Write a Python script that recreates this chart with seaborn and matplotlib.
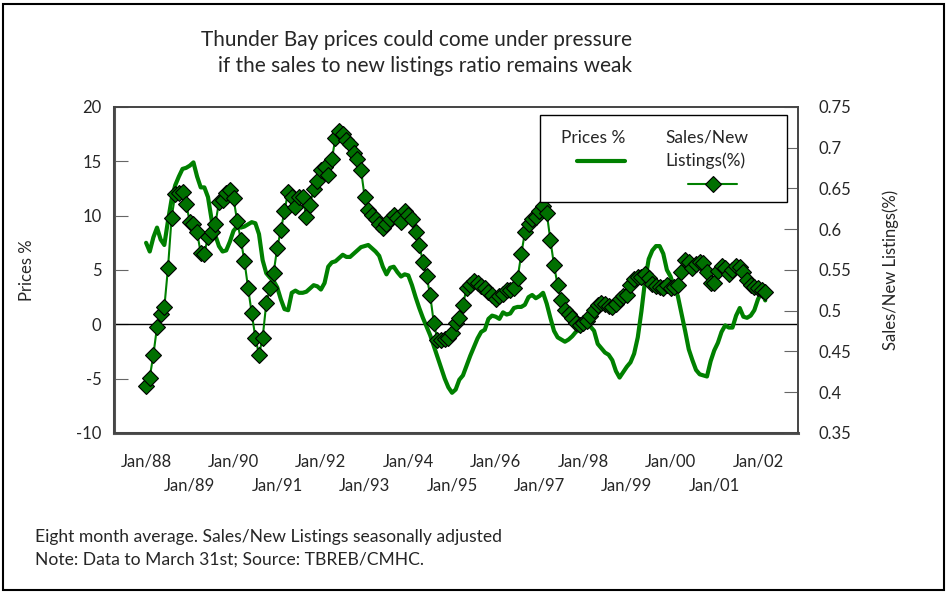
import pandas as pd
import seaborn as sns
import matplotlib.pyplot as plt
from matplotlib.lines import Line2D
from matplotlib.patches import Rectangle

# Datos mensuales Jan/88 - Mar/02
months = list(range(171))

prices = [7.5, 6.7, 8.0, 8.9, 7.8, 7.3, 9.5, 11.5, 12.8, 13.6, 14.3, 14.4,
          14.6, 14.9, 13.6, 12.6, 12.6, 11.7, 9.6, 8.2, 7.2, 6.7, 6.8, 7.6,
          8.6, 9.0, 8.9, 9.0, 9.2, 9.4, 9.3, 8.3, 5.9, 4.7, 4.3, 4.0,
          3.4, 2.3, 1.4, 1.3, 2.9, 3.1, 2.9, 2.9, 3.0, 3.3, 3.6, 3.5,
          3.2, 3.8, 5.3, 5.7, 5.8, 6.1, 6.4, 6.2, 6.2, 6.5, 6.8, 7.1,
          7.2, 7.3, 7.0, 6.7, 6.3, 5.3, 4.6, 5.2, 5.3, 4.8, 4.4, 4.6,
          4.5, 3.6, 2.5, 1.5, 0.6, -0.2, -1.0, -2.0, -3.0, -4.0, -5.0, -5.8,
          -6.3, -6.0, -5.1, -4.7, -3.8, -2.9, -2.1, -1.3, -0.7, -0.5, 0.5, 0.8,
          0.7, 0.5, 1.1, 0.9, 1.0, 1.5, 1.6, 1.6, 1.8, 2.5, 2.7, 2.4,
          2.6, 2.9, 1.9, 0.6, -0.6, -1.2, -1.4, -1.6, -1.4, -1.1, -0.7, -0.5,
          -0.3, -0.1, -0.2, -0.6, -1.8, -2.2, -2.6, -2.8, -3.3, -4.3, -4.9, -4.4,
          -3.9, -3.5, -2.7, -1.2, 1.2, 4.0, 6.0, 6.8, 7.2, 7.2, 6.5, 5.0,
          4.4, 3.4, 2.6, 1.0, -0.6, -2.3, -3.3, -4.2, -4.6, -4.7, -4.8, -3.4,
          -2.4, -1.7, -0.7, -0.1, -0.3, -0.3, 0.8, 1.5, 0.7, 0.6, 0.8, 1.3,
          2.3, 3.0, 2.2]

sales = [0.408, 0.418, 0.446, 0.480, 0.496, 0.504, 0.552, 0.614, 0.643, 0.645, 0.646, 0.631,
         0.609, 0.606, 0.596, 0.571, 0.570, 0.591, 0.596, 0.606, 0.633, 0.636, 0.645, 0.648,
         0.638, 0.610, 0.587, 0.561, 0.528, 0.497, 0.467, 0.446, 0.467, 0.509, 0.528, 0.546,
         0.577, 0.599, 0.622, 0.646, 0.639, 0.627, 0.640, 0.639, 0.615, 0.630, 0.649, 0.659,
         0.673, 0.676, 0.667, 0.686, 0.712, 0.720, 0.717, 0.710, 0.704, 0.694, 0.686, 0.673,
         0.640, 0.624, 0.618, 0.612, 0.606, 0.601, 0.606, 0.612, 0.618, 0.614, 0.609, 0.622,
         0.618, 0.612, 0.597, 0.581, 0.560, 0.543, 0.519, 0.485, 0.464, 0.464, 0.465, 0.467,
         0.473, 0.485, 0.491, 0.507, 0.528, 0.531, 0.536, 0.534, 0.530, 0.528, 0.523, 0.519,
         0.515, 0.518, 0.520, 0.525, 0.525, 0.528, 0.540, 0.569, 0.596, 0.607, 0.612, 0.615,
         0.622, 0.628, 0.620, 0.587, 0.556, 0.531, 0.513, 0.501, 0.496, 0.491, 0.485, 0.483,
         0.485, 0.488, 0.493, 0.501, 0.507, 0.509, 0.508, 0.506, 0.504, 0.508, 0.514, 0.518,
         0.519, 0.531, 0.539, 0.541, 0.541, 0.545, 0.540, 0.533, 0.530, 0.529, 0.528, 0.531,
         0.528, 0.529, 0.531, 0.548, 0.562, 0.560, 0.552, 0.557, 0.560, 0.559, 0.548, 0.534,
         0.534, 0.549, 0.555, 0.552, 0.545, 0.550, 0.555, 0.554, 0.548, 0.538, 0.531, 0.529,
         0.528, 0.525, 0.523]

year_labels = ['Jan/88', 'Jan/89', 'Jan/90', 'Jan/91', 'Jan/92', 'Jan/93', 'Jan/94', 'Jan/95',
               'Jan/96', 'Jan/97', 'Jan/98', 'Jan/99', 'Jan/00', 'Jan/01', 'Jan/02']

df = pd.DataFrame({'month': months, 'prices': prices, 'sales': sales})

sns.set_style('white')
plt.rcParams['font.family'] = ['Lato', 'DejaVu Sans']
plt.rcParams['axes.unicode_minus'] = False

fig = plt.figure(figsize=(9.48, 5.92), dpi=100)
ax = fig.add_axes([0.1203, 0.2686, 0.7215, 0.5507])
ax2 = ax.twinx()

green = '#008000'
sns.lineplot(data=df, x='month', y='prices', ax=ax, color=green, lw=3)
sns.lineplot(data=df, x='month', y='sales', ax=ax2, color=green, lw=1.5,
             marker='D', markersize=8, markerfacecolor='#007000',
             markeredgecolor='black', markeredgewidth=0.8)

ax.axhline(0, color='black', lw=1, zorder=1)

ax.set_xlim(-8.8, 179)
ax.set_ylim(-10, 20)
ax2.set_ylim(0.35, 0.75)
ax.set_yticks(range(-10, 21, 5))
ax2.set_yticks([0.35, 0.4, 0.45, 0.5, 0.55, 0.6, 0.65, 0.7, 0.75])
ax2.set_yticklabels(['0.35', '0.4', '0.45', '0.5', '0.55', '0.6', '0.65', '0.7', '0.75'])

# Años pares arriba, impares en una segunda fila
ax.set_xticks(range(0, 169, 24))
ax.set_xticklabels(year_labels[0::2])
ax.set_xticks(range(12, 169, 24), minor=True)
ax.set_xticklabels(year_labels[1::2], minor=True)
ax.tick_params(axis='x', which='major', length=0, pad=15, labelsize=12)
ax.tick_params(axis='x', which='minor', length=0, pad=32, labelsize=12)
ax.tick_params(axis='y', direction='in', length=10, pad=9, labelsize=12, color='#666666')
ax2.tick_params(axis='y', direction='in', length=10, pad=15, labelsize=12, color='#666666')

ax.set_xlabel('')
ax.set_ylabel('Prices %', fontsize=12)
ax2.set_ylabel('Sales/New Listings(%)', fontsize=12)
ax.yaxis.set_label_coords(-0.116, 0.5)
ax2.yaxis.set_label_coords(1.123, 0.5)

for a in (ax, ax2):
    for s in a.spines.values():
        s.set_color('#444444')
        s.set_linewidth(1.2)
ax.spines['left'].set_linewidth(2.2)
ax.spines['bottom'].set_linewidth(2.2)
ax.spines['left'].set_color('#555555')
ax.spines['bottom'].set_color('#555555')

# Leyenda hecha a mano (etiquetas encima de las muestras)
ax2.add_patch(Rectangle((0.623, 0.709), 0.361, 0.266, transform=ax2.transAxes,
                        facecolor='white', edgecolor='black', lw=1, zorder=5))
ax2.text(0.700, 0.905, 'Prices %', transform=ax2.transAxes, ha='center', va='center',
         fontsize=12.5, zorder=6)
ax2.add_line(Line2D([0.677, 0.747], [0.834, 0.834], transform=ax2.transAxes,
                    color=green, lw=3, zorder=6))
ax2.text(0.867, 0.905, 'Sales/New', transform=ax2.transAxes, ha='center', va='center',
         fontsize=12.5, zorder=6)
ax2.text(0.864, 0.836, 'Listings(%)', transform=ax2.transAxes, ha='center', va='center',
         fontsize=12.5, zorder=6)
ax2.add_line(Line2D([0.839, 0.911], [0.764, 0.764], transform=ax2.transAxes,
                    color=green, lw=1.5, zorder=6))
ax2.add_line(Line2D([0.875], [0.764], transform=ax2.transAxes, marker='D', markersize=8,
                    markerfacecolor='#007000', markeredgecolor='black',
                    markeredgewidth=0.8, zorder=7))

# Titulo y notas
fig.text(0.439, 1 - 40 / 592, 'Thunder Bay prices could come under pressure',
         ha='center', va='center', fontsize=15)
fig.text(0.448, 1 - 66 / 592, 'if the sales to new listings ratio remains weak',
         ha='center', va='center', fontsize=15)
fig.text(35 / 948, 1 - 537 / 592, 'Eight month average. Sales/New Listings seasonally adjusted',
         ha='left', va='center', fontsize=12.6)
fig.text(35 / 948, 1 - 560 / 592, 'Note: Data to March 31st; Source: TBREB/CMHC.',
         ha='left', va='center', fontsize=12.6)

fig.add_artist(Rectangle((0.003, 0.004), 0.993, 0.99, transform=fig.transFigure,
                         fill=False, edgecolor='black', lw=1.5))

plt.savefig('out.png', dpi=100)
plt.close()
